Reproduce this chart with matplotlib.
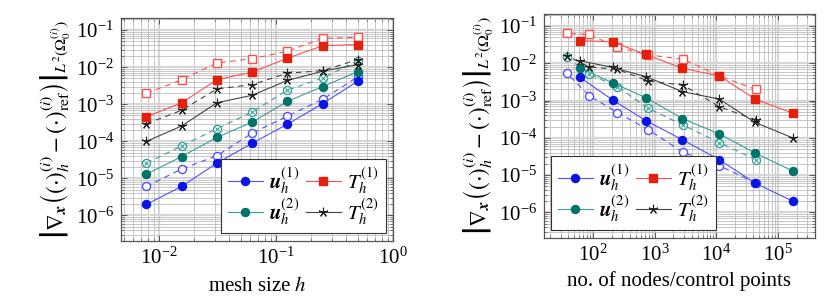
import numpy as np
import matplotlib
matplotlib.use("Agg")
import matplotlib.pyplot as plt
from matplotlib.ticker import LogLocator, NullFormatter

plt.rcParams['font.family'] = ['Liberation Serif', 'DejaVu Serif']
plt.rcParams['mathtext.fontset'] = 'stix'

# mesh sizes (left) and number of nodes / control points (right)
h = [1/128, 1/64, 1/32, 1/16, 1/8, 1/4, 1/2]
n_fem = [173000, 42700, 11200, 2830, 723, 209, 62]
n_iga = [43700, 11200, 2900, 787, 248, 87, 37.5]

# errors, ordered from finest to coarsest
u1_fem = [2.0e-6, 6.1e-6, 2.6e-5, 8.9e-5, 2.9e-4, 1.04e-3, 4.2e-3]
u1_iga = [6.1e-6, 1.8e-5, 4.1e-5, 1.66e-4, 4.8e-4, 1.36e-3, 5.5e-3]
u2_fem = [1.3e-5, 3.9e-5, 1.28e-4, 3.3e-4, 1.2e-3, 3.0e-3, 7.6e-3]
u2_iga = [2.6e-5, 7.5e-5, 2.2e-4, 6.2e-4, 2.4e-3, 5.1e-3, 1.5e-2]
T1_fem = [4.6e-4, 1.1e-3, 4.6e-3, 7.4e-3, 1.74e-2, 3.8e-2, 4.1e-2]
T1_iga = [2.0e-3, 4.6e-3, 1.3e-2, 1.7e-2, 2.7e-2, 6.0e-2, 6.4e-2]
T2_fem = [1.0e-4, 2.6e-4, 1.1e-3, 1.75e-3, 4.4e-3, 7.8e-3, 1.18e-2]
T2_iga = [3.0e-4, 6.9e-4, 2.6e-3, 3.4e-3, 6.9e-3, 8.1e-3, 1.6e-2]

blue_l, blue_m = '#5050ff', '#0a14e6'
red_l, red_m = '#ff5050', '#e3200b'
teal_l, teal_m = '#3a9f98', '#00736b'
blk_l, blk_m = '#444444', '#222222'
star = (5, 2, 0)

ylabel = (r'$\left|\nabla_{\mathbfit{x}}\left((\cdot)_h^{(i)}-(\cdot)_{\mathrm{ref}}^{(i)}\right)'
          r'\right|_{L^2(\Omega_0^{(i)})}$')

fig = plt.figure(figsize=(8.3, 3.05), dpi=100)
ax1 = fig.add_axes([0.1458, 0.2108, 0.3277, 0.7292])
ax2 = fig.add_axes([0.6554, 0.2207, 0.3265, 0.7325])


def draw(ax, xf, xi):
    ms = 5.8
    dash = dict(ls='--', dashes=(5, 4), lw=0.8)
    # dashed, open markers
    ax.plot(xi, u1_iga, color=blue_l, marker='o', ms=ms, mfc='white', mec=blue_l, **dash)
    ax.plot(xi, u2_iga, color=teal_l, marker='o', ms=ms, mfc='white', mec=teal_l, **dash)
    ax.plot(xi, u2_iga, ls='none', marker='x', ms=ms * 0.6, mew=0.8, color=teal_l)
    ax.plot(xi, T1_iga, color=red_l, marker='s', ms=ms, mfc='white', mec=red_l, **dash)
    ax.plot(xi, T2_iga, color=blk_l, marker=star, ms=ms + 1, mec=blk_m, mew=0.8, **dash)
    # solid, filled markers
    l1, = ax.plot(xf, u1_fem, color=blue_l, lw=0.8, marker='o', ms=ms, mfc=blue_m, mec=blue_m,
                  label=r'$\mathbfit{u}_h^{(1)}$')
    l2, = ax.plot(xf, u2_fem, color=teal_l, lw=0.8, marker='o', ms=ms, mfc=teal_m, mec=teal_m,
                  label=r'$\mathbfit{u}_h^{(2)}$')
    l3, = ax.plot(xf, T1_fem, color=red_l, lw=0.8, marker='s', ms=ms, mfc=red_m, mec=red_m,
                  label=r'$T_h^{(1)}$')
    l4, = ax.plot(xf, T2_fem, color=blk_l, lw=0.8, marker=star, ms=ms + 1, mec=blk_m, mew=0.8,
                  label=r'$T_h^{(2)}$')

    ax.set_xscale('log')
    ax.set_yscale('log')
    ax.set_ylim(10 ** -6.68, 10 ** -0.68)
    ax.xaxis.set_major_locator(LogLocator(base=10, numticks=20))
    ax.xaxis.set_minor_locator(LogLocator(base=10, subs=np.arange(2, 10), numticks=50))
    ax.yaxis.set_major_locator(LogLocator(base=10, numticks=20))
    ax.yaxis.set_minor_locator(LogLocator(base=10, subs=np.arange(2, 10), numticks=50))
    ax.xaxis.set_minor_formatter(NullFormatter())
    ax.yaxis.set_minor_formatter(NullFormatter())
    ax.grid(True, which='major', color='#d6d6d6', lw=1.6)
    ax.grid(True, which='minor', color='#bdbdbd', lw=0.6)
    ax.set_axisbelow(True)
    ax.tick_params(which='both', direction='in', top=True, right=True, colors='#555555',
                   labelcolor='black', labelsize=15)
    ax.tick_params(which='major', length=4, width=0.7, pad=5)
    ax.tick_params(which='minor', length=2, width=0.5)
    for s in ax.spines.values():
        s.set_color('#555555')
        s.set_linewidth(0.9)
    ax.set_ylabel(ylabel, fontsize=16.5, labelpad=2)
    return [l1, l2, l3, l4]


def add_legend(ax, hs, loc):
    leg = ax.legend(handles=hs, ncol=2, loc=loc, fontsize=15, frameon=True,
                    fancybox=False, framealpha=1, edgecolor='#333333', borderaxespad=0.35,
                    handlelength=1.7, columnspacing=0.3, handletextpad=0.3, labelspacing=0.05,
                    borderpad=0.3)
    leg.get_frame().set_linewidth(0.8)


hs = draw(ax1, h, h)
ax1.set_xlim(10 ** -2.325, 1.0)
ax1.set_xlabel(r'mesh size $h$', fontsize=15, labelpad=6)
add_legend(ax1, hs, 'lower right')

hs = draw(ax2, n_fem, n_iga)
ax2.set_xlim(10 ** 1.206, 10 ** 5.6)
ax2.set_xlabel('no. of nodes/control points', fontsize=15, labelpad=4)
add_legend(ax2, hs, 'lower left')

fig.savefig('out.png', dpi=100)
